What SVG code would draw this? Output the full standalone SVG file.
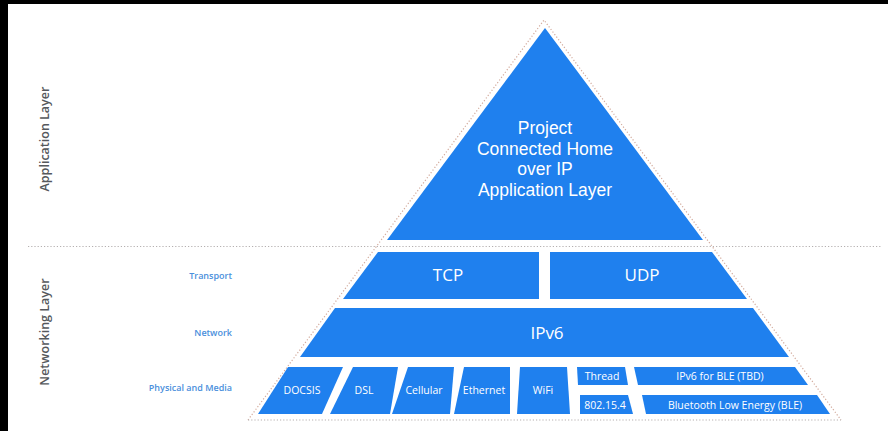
<svg xmlns="http://www.w3.org/2000/svg" width="888" height="431" viewBox="0 0 888 431">
<style>
.blk{fill:#1f80ee}
.t{font-family:"Open Sans","Liberation Sans",sans-serif;fill:#ffffff;text-anchor:middle}
.big{font-family:"Liberation Sans","Open Sans",sans-serif;font-size:17.5px}
.mid{font-size:17px}
.sm{font-size:10.5px}
.side{font-family:"Open Sans","Liberation Sans",sans-serif;font-size:12.5px;font-weight:600;fill:#55585c;text-anchor:middle}
.lab{font-family:"Open Sans","Liberation Sans",sans-serif;font-size:9px;font-weight:600;fill:#4a8fdc;text-anchor:end}
.hdot{fill:none;stroke:#b5b0b0;stroke-width:1.2;stroke-dasharray:1.2 2}
.odot{fill:none;stroke:#d2aa9c;stroke-width:1.2;stroke-dasharray:1.2 2}
</style>
<rect x="0" y="0" width="888" height="431" fill="#ffffff"/>
<rect x="0" y="0" width="888" height="4" fill="#000000"/>
<rect x="0" y="0" width="8" height="431" fill="#000000"/>
<g id="connectors">
<line class="hdot" x1="28" y1="246.5" x2="882" y2="246.5"/>
<polyline class="odot" points="248,420 544,20 841,420"/>
<line class="hdot" x1="248" y1="420" x2="841" y2="420"/>
</g>
<g id="side-labels">
<text class="side" transform="translate(49,139) rotate(-90)">Application Layer</text>
<text class="side" transform="translate(49,332) rotate(-90)">Networking Layer</text>
<text class="lab" x="232" y="279">Transport</text>
<text class="lab" x="232" y="336">Network</text>
<text class="lab" x="232" y="391">Physical and Media</text>
</g>
<g id="app-layer">
<polygon class="blk" points="545,28 703,240 387,240"/>
<text class="t big" x="545" y="134">Project</text>
<text class="t big" x="545" y="154.5">Connected Home</text>
<text class="t big" x="545" y="175">over IP</text>
<text class="t big" x="545" y="196">Application Layer</text>
</g>
<g id="tcp">
<polygon class="blk" points="378,252 539,252 539,299 343,299"/>
<text class="t mid" x="448" y="281">TCP</text>
</g>
<g id="udp">
<polygon class="blk" points="550,252 712,252 747,299 550,299"/>
<text class="t mid" x="642" y="281">UDP</text>
</g>
<g id="ipv6">
<polygon class="blk" points="335,308 753,308 789,357 300,357"/>
<text class="t mid" x="547" y="339">IPv6</text>
</g>
<g id="docsis">
<polygon class="blk" points="288,367 343,367 322,414 258,414"/>
<text class="t sm" x="302" y="394">DOCSIS</text>
</g>
<g id="dsl">
<polygon class="blk" points="353,367 398,367 390,414 330,414"/>
<text class="t sm" x="364" y="394">DSL</text>
</g>
<g id="cellular">
<polygon class="blk" points="408,367 454,367 450,414 392,414"/>
<text class="t sm" x="424" y="394">Cellular</text>
</g>
<g id="ethernet">
<polygon class="blk" points="464,367 510,367 510,414 454,414"/>
<text class="t sm" x="484" y="394">Ethernet</text>
</g>
<g id="wifi">
<polygon class="blk" points="520,367 567,367 570,414 517,414"/>
<text class="t sm" x="543" y="394">WiFi</text>
</g>
<g id="thread">
<polygon class="blk" points="577,367 625,367 628,385 578,385"/>
<text class="t sm" x="602" y="379.5">Thread</text>
</g>
<g id="ieee802154">
<polygon class="blk" points="580,395 628,395 633,414 580,414"/>
<text class="t sm" x="605" y="408.5">802.15.4</text>
</g>
<g id="ipv6-ble">
<polygon class="blk" points="634,367 795,367 808,385 638,385"/>
<text class="t sm" x="720" y="379.5">IPv6 for BLE (TBD)</text>
</g>
<g id="ble">
<polygon class="blk" points="642,395 817,395 830,414 646,414"/>
<text class="t sm" x="735" y="408.5">Bluetooth Low Energy (BLE)</text>
</g>
</svg>
